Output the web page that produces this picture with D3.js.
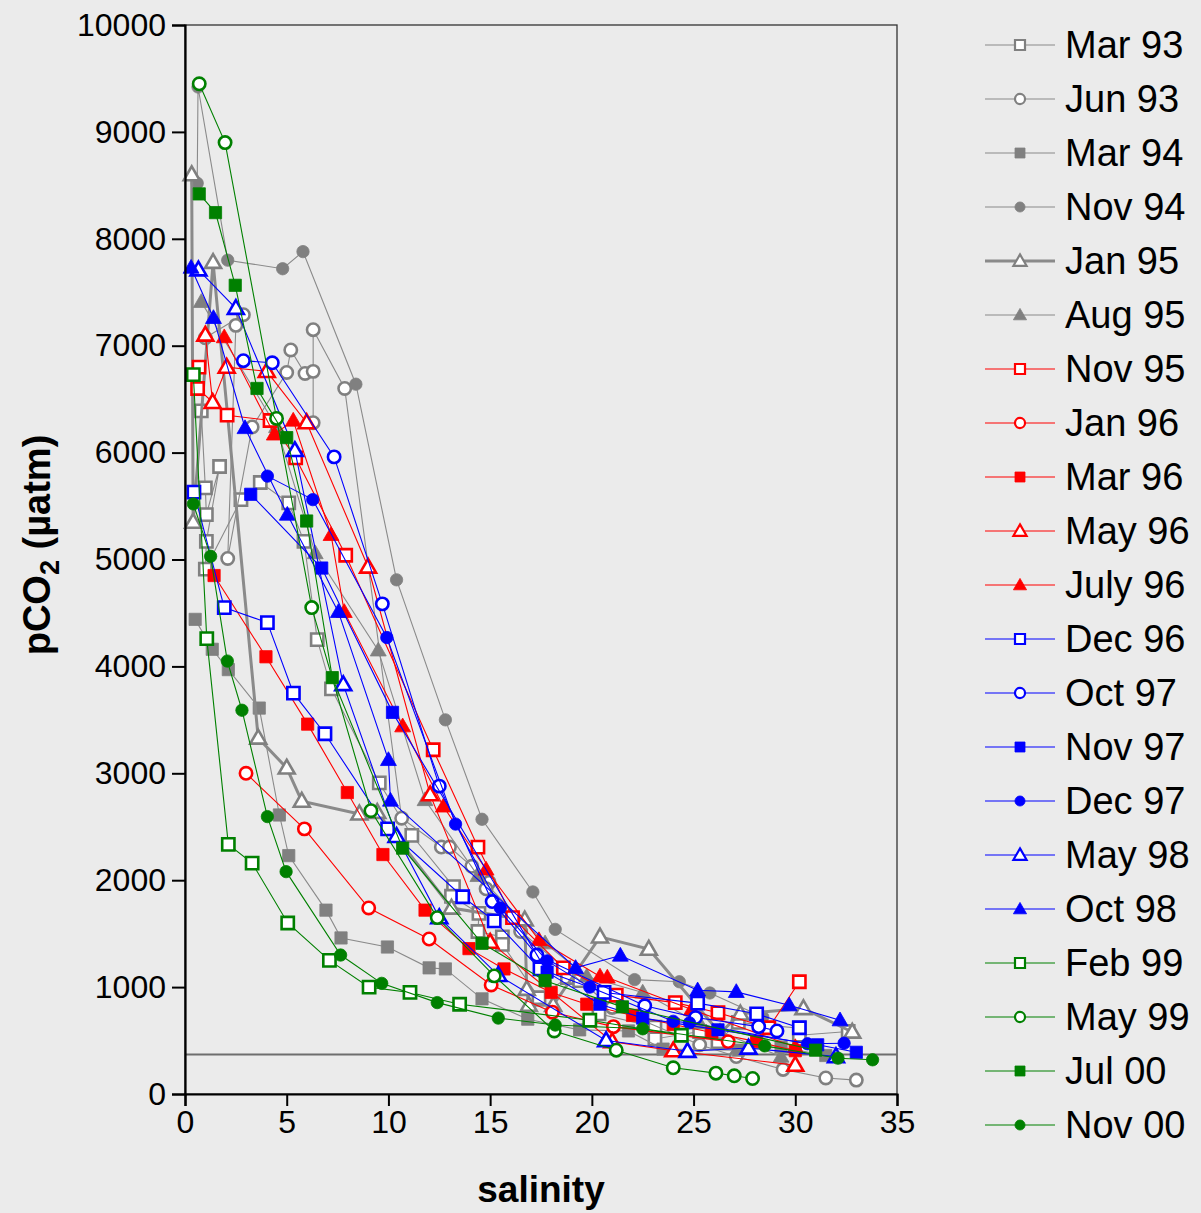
<!DOCTYPE html>
<html><head><meta charset="utf-8">
<script src="https://cdn.jsdelivr.net/npm/d3@7/dist/d3.min.js"></script>
<style>
body{margin:0;background:#ebebeb;}
svg{display:block;font-family:"Liberation Sans",Arial,Helvetica,sans-serif;}
</style>
</head><body>
<svg id="chart" width="1201" height="1213"></svg>
<script>
// ---- tick labels ----
const xTicks = [0, 5, 10, 15, 20, 25, 30, 35];
const yTicks = [0, 1000, 2000, 3000, 4000, 5000, 6000, 7000, 8000, 9000, 10000];
const atmosphericCO2 = 370;

// ---- series names (legend order) ----
const seriesNames = ["Mar 93","Jun 93","Mar 94","Nov 94","Jan 95","Aug 95","Nov 95","Jan 96","Mar 96","May 96","July 96","Dec 96","Oct 97","Nov 97","Dec 97","May 98","Oct 98","Feb 99","May 99","Jul 00","Nov 00"];

// ---- series values: [salinity, pCO2 (µatm)] ----
const mar93 = [[0.8,6390],[1.0,5670],[1.05,5420],[1.7,5870],[1.05,5170],[1.0,4910],[2.75,5560],[3.7,5720],[5.1,5530],[5.85,5170],[6.5,4250],[7.2,3790],[9.55,2910],[11.15,2420],[13.2,1940],[13.1,1850],[14.45,1690],[14.4,1520],[15.6,1470],[15.6,1400],[17.4,900],[18.8,1090],[19.4,1060],[20.35,750],[23.1,625],[23.1,515],[25.3,585],[26.2,490],[27.2,670],[30.2,615],[30.2,550],[32.6,585]];
const jun93 = [[1.0,7075],[2.87,7290],[2.5,7190],[2.1,5010],[3.3,6240],[5.0,6750],[5.2,6960],[5.9,6740],[6.3,6760],[6.3,6280],[6.3,7150],[7.85,6600],[10.65,2580],[12.6,2310],[13.0,2310],[14.1,2130],[14.95,1980],[14.8,1920],[16.5,1520],[21.0,810],[25.3,460],[27.1,350],[29.4,230],[31.5,150],[33.0,130]];
const mar94 = [[0.5,4440],[1.34,4160],[2.13,3970],[3.65,3610],[4.64,2610],[5.1,2230],[6.93,1720],[7.67,1460],[9.95,1375],[12.0,1180],[12.8,1170],[14.6,890],[16.85,700],[19.4,600],[21.8,590],[23.5,420],[27.2,410],[29.3,440],[31.5,360]];
const nov94 = [[0.6,8520],[0.64,9420],[2.1,7800],[4.8,7720],[5.8,7880],[8.4,6640],[10.4,4810],[12.8,3500],[14.6,2570],[17.1,1890],[18.2,1540],[22.1,1070],[24.3,1050],[25.8,945],[28.4,720]];
const jan95 = [[0.33,8600],[0.4,5350],[1.38,7780],[3.6,3330],[5.0,3050],[5.74,2740],[8.57,2620],[9.45,2635],[13.1,1740],[16.7,1630],[16.8,980],[16.9,830],[18.1,830],[20.4,1470],[22.8,1355],[26.3,570],[27.3,750],[30.4,800],[32.8,580]];
const aug95 = [[0.8,7410],[4.5,6240],[6.4,5060],[9.5,4150],[11.8,2750],[14.4,2040],[17.7,1410],[19.75,1100],[22.5,950],[25.3,660],[29.3,350]];
const nov95 = [[0.69,6800],[0.62,6600],[2.07,6350],[4.18,6300],[5.44,5950],[7.9,5040],[12.2,3220],[14.4,2310],[16.1,1650],[18.6,1180],[21.2,925],[24.1,855],[26.2,760],[28.7,620],[30.2,1050]];
const jan96 = [[3.0,3000],[5.87,2480],[9.03,1740],[12.0,1450],[15.05,1020],[18.06,765],[21.06,630],[26.7,490]];
const mar96 = [[1.43,4850],[3.98,4090],[6.03,3460],[7.98,2820],[9.73,2240],[11.8,1720],[13.96,1360],[15.68,1170],[18.0,950],[19.75,840],[22.0,735],[24.0,650],[25.9,575],[28.1,490],[30.0,405]];
const may96 = [[1.0,7100],[1.36,6470],[2.05,6800],[4.02,6760],[5.98,6280],[9.0,4930],[12.05,2800],[15.0,1420],[21.0,490],[24.0,405],[30.0,270]];
const jul96 = [[1.93,7080],[4.39,6170],[5.32,6300],[7.18,5230],[7.83,4510],[10.7,3440],[12.7,2690],[14.8,2100],[17.4,1440],[20.4,1100],[20.76,1090],[24.9,790],[30.0,440]];
const dec96 = [[0.44,5630],[1.93,4550],[4.05,4410],[5.33,3750],[6.88,3370],[9.96,2480],[13.65,1845],[15.2,1620],[17.45,1170],[20.6,950],[25.2,850],[28.1,750],[30.2,620]];
const oct97 = [[2.87,6860],[4.29,6840],[7.33,5960],[9.7,4585],[12.5,2880],[15.1,1800],[17.3,1300],[22.6,825],[25.1,715],[28.2,630],[29.1,590]];
const nov97 = [[3.23,5610],[6.72,4920],[10.2,3570],[17.8,1140],[20.4,840],[22.5,710],[26.2,600],[31.1,460],[33.0,390]];
const dec97 = [[4.05,5780],[6.28,5560],[9.92,4270],[13.3,2525],[15.5,1740],[17.8,1245],[19.9,1000],[24.0,680],[24.8,665],[30.6,470],[32.4,475]];
const may98 = [[0.66,7710],[2.5,7350],[5.4,6020],[7.78,3830],[10.4,2410],[12.5,1650],[15.4,1110],[20.7,500],[24.7,400],[27.7,430],[32.0,350]];
const oct98 = [[0.3,7730],[1.4,7260],[2.95,6230],[5.03,5420],[7.54,4510],[10.0,3125],[10.1,2745],[19.2,1180],[21.4,1295],[25.2,970],[27.1,955],[29.7,830],[32.2,690]];
const feb99 = [[0.41,6730],[1.07,4260],[2.13,2335],[3.3,2160],[5.05,1600],[7.1,1250],[9.05,1000],[11.06,950],[13.5,840],[19.9,690],[24.4,550]];
const may99 = [[0.7,9450],[1.97,8900],[4.5,6320],[6.23,4550],[9.14,2650],[12.4,1650],[15.2,1105],[18.15,590],[21.2,410],[24.0,245],[26.1,195],[27.0,170],[27.9,145]];
const jul00 = [[0.7,8420],[1.5,8245],[2.47,7565],[3.54,6600],[5.0,6140],[5.98,5360],[7.24,3895],[10.7,2300],[14.6,1410],[17.7,1060],[21.5,815],[31.0,410]];
const nov00 = [[0.41,5520],[1.26,5030],[2.08,4050],[2.8,3590],[4.05,2595],[4.97,2080],[7.65,1300],[9.67,1035],[12.4,855],[15.4,710],[18.2,645],[22.5,610],[28.5,450],[32.1,335],[33.8,320]];

const seriesValues = [mar93,jun93,mar94,nov94,jan95,aug95,nov95,jan96,mar96,may96,jul96,dec96,oct97,nov97,dec97,may98,oct98,feb99,may99,jul00,nov00];

// ---- styling (kept separate from values) ----
const GRAY="#808080", RED="#ff0000", BLUE="#0000ff", GREEN="#008000";
const seriesColor = [GRAY,GRAY,GRAY,GRAY,GRAY,GRAY,RED,RED,RED,RED,RED,BLUE,BLUE,BLUE,BLUE,BLUE,BLUE,GREEN,GREEN,GREEN,GREEN];
const seriesShape = ["square","circle","square","circle","triangle","triangle","square","circle","square","triangle","triangle","square","circle","square","circle","triangle","triangle","square","circle","square","circle"];
const seriesOpen  = [true,true,false,false,true,false,true,true,false,true,false,true,true,false,false,true,false,true,true,false,false];

const svg = d3.select("#chart");
const W = 1201, H = 1213;
svg.append("rect").attr("width",W).attr("height",H).attr("fill","#ebebeb");

const x = d3.scaleLinear().domain([0,35]).range([185,897]);
const y = d3.scaleLinear().domain([0,10000]).range([1094,25]);

// plot frame (thin top/right)
svg.append("rect").attr("x",x(0)).attr("y",y(10000)).attr("width",x(35)-x(0)).attr("height",y(0)-y(10000))
  .attr("fill","#ebebeb").attr("stroke","#333").attr("stroke-width",1.3);

// atmospheric reference line
svg.append("line").attr("x1",x(0)).attr("x2",x(35)).attr("y1",y(atmosphericCO2)).attr("y2",y(atmosphericCO2))
  .attr("stroke","#6e6e6e").attr("stroke-width",2);

function symbolFor(shape, big){
  const sz = big ? {square:150, circle:120, triangle:110} : {square:100, circle:80, triangle:75};
  const t = shape==="square"?d3.symbolSquare:shape==="circle"?d3.symbolCircle:d3.symbolTriangle;
  return d3.symbol().type(t).size(sz[shape]);
}

const plot = svg.append("g");
const lineGen = d3.line().x(d=>x(d[0])).y(d=>y(d[1]));

seriesValues.forEach((vals,i)=>{
  const g = plot.append("g");
  const col = seriesColor[i];
  const lw = seriesNames[i]==="Jan 95" ? 3 : 1.1;
  g.append("path").attr("d",lineGen(vals)).attr("fill","none")
    .attr("stroke", col===GRAY ? "#8a8a8a" : col).attr("stroke-width",lw);
  const sym = symbolFor(seriesShape[i], true);
  g.selectAll("path.m").data(vals).join("path").attr("class","m")
    .attr("d",sym)
    .attr("transform",d=>`translate(${x(d[0])},${y(d[1]) + (seriesShape[i]==="triangle"?1:0)})`)
    .attr("fill", seriesOpen[i] ? "#ffffff" : col)
    .attr("stroke", col)
    .attr("stroke-width", seriesOpen[i] ? 2.6 : 0.8);
});

// axes
const xAxis = d3.axisBottom(x).tickValues(xTicks).tickSize(12).tickPadding(4).tickFormat(d3.format("d"));
const yAxis = d3.axisLeft(y).tickValues(yTicks).tickSize(13).tickPadding(6).tickFormat(d3.format("d"));
const gx = svg.append("g").attr("transform",`translate(0,${y(0)})`).call(xAxis);
const gy = svg.append("g").attr("transform",`translate(${x(0)},0)`).call(yAxis);
[gx,gy].forEach(g=>{
  g.select(".domain").attr("stroke","#000").attr("stroke-width",2.2);
  g.selectAll(".tick line").attr("stroke","#000").attr("stroke-width",2);
  g.selectAll(".tick text").attr("fill","#000").attr("font-size",32).attr("font-family","Liberation Sans, Arial, sans-serif");
});

// axis titles
svg.append("text").attr("x",(x(0)+x(35))/2).attr("y",1202).attr("text-anchor","middle")
  .attr("font-size",37).attr("font-weight","bold").text("salinity");
const yt = svg.append("text").attr("transform",`translate(50,545) rotate(-90)`)
  .attr("text-anchor","middle").attr("font-size",38).attr("font-weight","bold");
yt.append("tspan").text("pCO");
yt.append("tspan").attr("font-size",27).attr("dy",9).text("2");
yt.append("tspan").attr("dy",-9).text(" (µatm)");

// legend
const leg = svg.append("g");
seriesNames.forEach((name,i)=>{
  const cy = 45 + i*54;
  const col = seriesColor[i];
  const lg = leg.append("g");
  lg.append("line").attr("x1",985).attr("x2",1055).attr("y1",cy).attr("y2",cy)
    .attr("stroke", col===GRAY ? "#8a8a8a" : col).attr("stroke-width", name==="Jan 95"?3:1.2);
  lg.append("path").attr("d",symbolFor(seriesShape[i], false))
    .attr("transform",`translate(1020,${cy + (seriesShape[i]==="triangle"?1:0)})`)
    .attr("fill", seriesOpen[i] ? "#ffffff" : col).attr("stroke",col)
    .attr("stroke-width", seriesOpen[i] ? 2.2 : 0.8);
  lg.append("text").attr("x",1065).attr("y",cy+13).attr("font-size",38).attr("fill","#000").text(name);
});
</script>
</body></html>
